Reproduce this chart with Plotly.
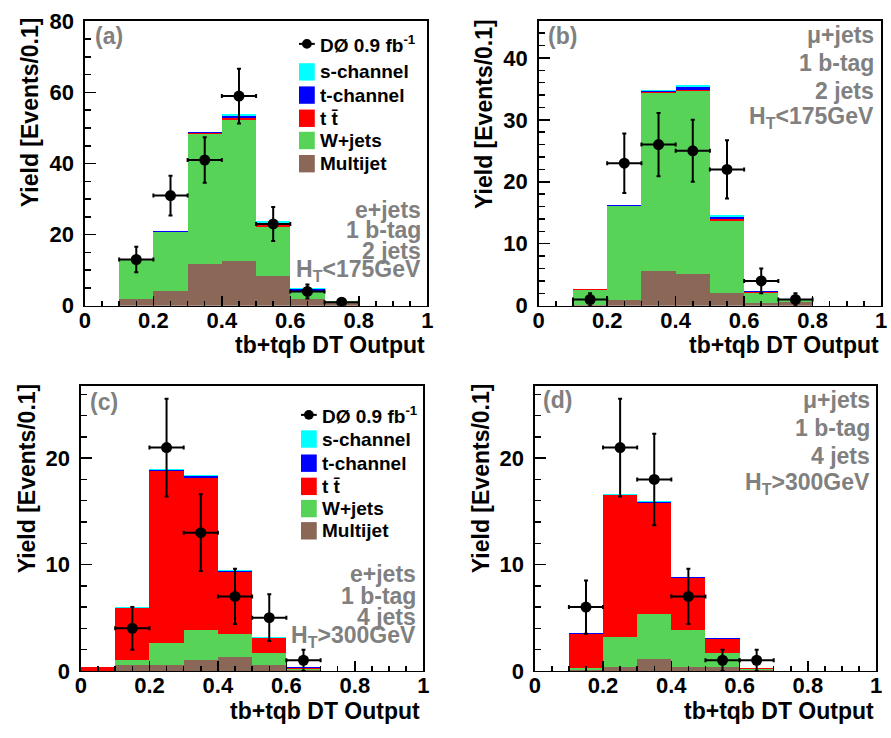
import plotly.graph_objects as go

W, H = 891, 738

# ---------------- data ----------------
bin_centers = [0.05, 0.15, 0.25, 0.35, 0.45, 0.55, 0.65, 0.75]
data_x7 = [0.15, 0.25, 0.35, 0.45, 0.55, 0.65, 0.75]
data_x6 = [0.15, 0.25, 0.35, 0.45, 0.55, 0.65]

# (a) e+jets, 1 b-tag, 2 jets, HT<175GeV
mj_a = [0, 1.8, 4.1, 11.6, 12.7, 8.3, 1.8, 0.9]
wj_a = [0, 11.2, 16.6, 36.7, 39.5, 13.9, 2.1, 0.3]
tt_a = [0, 0.05, 0.1, 0.3, 0.5, 0.5, 0.3, 0.02]
tch_a = [0, 0.05, 0.1, 0.2, 0.6, 0.6, 0.4, 0.02]
sch_a = [0, 0.03, 0.05, 0.2, 0.7, 0.5, 0.3, 0.01]
dat_a = [13, 31, 41, 59, 23, 4, 1]
err_a = [3.6, 5.6, 6.4, 7.7, 4.8, 2.0, 1.0]

# (b) mu+jets, 1 b-tag, 2 jets, HT<175GeV
mj_b = [0, 0.1, 1.0, 5.6, 5.1, 2.1, 0.4, 0.6]
wj_b = [0, 2.5, 15.1, 28.7, 29.5, 11.6, 1.7, 0.4]
tt_b = [0, 0.02, 0.05, 0.15, 0.25, 0.25, 0.1, 0.01]
tch_b = [0, 0.02, 0.05, 0.15, 0.45, 0.4, 0.15, 0.01]
sch_b = [0, 0.01, 0.05, 0.15, 0.3, 0.3, 0.1, 0.01]
dat_b = [1, 23, 26, 25, 22, 4, 1]
err_b = [1.0, 4.8, 5.1, 5.0, 4.7, 2.0, 1.0]

# (c) e+jets, 1 b-tag, 4 jets, HT>300GeV
mj_c = [0, 0.6, 0.6, 1.0, 1.35, 0.6, 0.05, 0]
wj_c = [0, 0.45, 2.0, 2.85, 2.15, 1.1, 0.1, 0]
tt_c = [0.35, 4.85, 16.2, 14.3, 5.8, 1.35, 0.15, 0]
tch_c = [0, 0.05, 0.1, 0.15, 0.1, 0.08, 0.02, 0]
sch_c = [0, 0.03, 0.08, 0.1, 0.08, 0.07, 0.02, 0]
dat_c = [4, 21, 13, 7, 5, 1]
err_c = [2.0, 4.6, 3.6, 2.6, 2.2, 1.0]

# (d) mu+jets, 1 b-tag, 4 jets, HT>300GeV
mj_d = [0, 0.05, 0.35, 1.15, 0.35, 0.35, 0.05, 0]
wj_d = [0, 0.25, 2.8, 4.2, 3.45, 1.3, 0.1, 0]
tt_d = [0, 3.2, 13.35, 10.45, 4.9, 1.35, 0.1, 0]
tch_d = [0, 0.02, 0.05, 0.1, 0.1, 0.05, 0.02, 0]
sch_d = [0, 0.02, 0.05, 0.1, 0.05, 0.05, 0.02, 0]
dat_d = [6, 21, 18, 7, 1, 1]
err_d = [2.5, 4.6, 4.3, 2.6, 1.0, 1.0]

x_ticks = [0, 0.2, 0.4, 0.6, 0.8, 1]
x_ticktext = ["0", "0.2", "0.4", "0.6", "0.8", "1"]
y_ticks_a = [0, 20, 40, 60, 80]
y_ticks_b = [0, 10, 20, 30, 40]
y_ticks_cd = [0, 10, 20]
legend_labels = ["DØ 0.9 fb<sup>-1</sup>", "s-channel", "t-channel", "t t\u0304", "W+jets", "Multijet"]
x_title = "tb+tqb DT Output"
y_title = "Yield [Events/0.1]"

# ---------------- styles ----------------
C_S, C_T, C_TT, C_W, C_MJ = "#00ffff", "#0000ff", "#ff0000", "#57d457", "#8b6758"
GRAY = "#808080"
FONT = "Liberation Sans, Arial, Helvetica, sans-serif"


def px(x):
    return x / W


def py(y):
    return 1 - y / H


panels = [
    dict(name="a", bg=(mj_a, wj_a, tt_a, tch_a, sch_a), dx=data_x7, d=dat_a, e=err_a,
         frame=(80, 427, 9, 304), ymax=80.2, yticks=y_ticks_a, minor=5,
         label_pos=(88, 25),
         ann=["e+jets", "1 b-tag", "2 jets", "H<sub>T</sub><175GeV"], ann_x=423, ann_y=[205, 226, 247, 268],
         ytit=(25, 104), xtit=(427, 345), legend=(297, [33, 62, 86, 110, 133, 157])),
    dict(name="b", bg=(mj_b, wj_b, tt_b, tch_b, sch_b), dx=data_x7, d=dat_b, e=err_b,
         frame=(540, 887, 9, 304), ymax=46, yticks=y_ticks_b, minor=2,
         label_pos=(547, 25),
         ann=["\u03bc+jets", "1 b-tag", "2 jets", "H<sub>T</sub><175GeV"], ann_x=882, ann_y=[24, 53, 82, 109],
         ytit=(485, 105), xtit=(887, 345), legend=None),
    dict(name="c", bg=(mj_c, wj_c, tt_c, tch_c, sch_c), dx=data_x6, d=dat_c, e=err_c,
         frame=(76, 423, 387, 682), ymax=26.8, yticks=y_ticks_cd, minor=2,
         label_pos=(83, 404),
         ann=["e+jets", "1 b-tag", "4 jets", "H<sub>T</sub>>300GeV"], ann_x=418, ann_y=[582, 604, 626, 646],
         ytit=(21, 483), xtit=(422, 723), legend=(299, [417, 442, 467, 491, 514, 537])),
    dict(name="d", bg=(mj_d, wj_d, tt_d, tch_d, sch_d), dx=data_x6, d=dat_d, e=err_d,
         frame=(536, 882, 387, 682), ymax=26.8, yticks=y_ticks_cd, minor=2,
         label_pos=(542, 402),
         ann=["\u03bc+jets", "1 b-tag", "4 jets", "H<sub>T</sub>>300GeV"], ann_x=878, ann_y=[402, 431, 460, 488],
         ytit=(481, 483), xtit=(882, 723), legend=None),
]

fig = go.Figure()
shapes = []
annotations = []
layout_axes = {}
bg_colors = [C_MJ, C_W, C_TT, C_T, C_S]
bg_names = ["Multijet", "W+jets", "ttbar", "t-channel", "s-channel"]

for i, p in enumerate(panels):
    k = "" if i == 0 else str(i + 1)
    xa, ya = "x" + k, "y" + k
    for vals, col, nm in zip(p["bg"], bg_colors, bg_names):
        fig.add_trace(go.Bar(x=bin_centers, y=vals, width=0.1, marker=dict(color=col, line=dict(width=0)),
                             name=nm, showlegend=False, xaxis=xa, yaxis=ya, hoverinfo="skip"))
    fig.add_trace(go.Scatter(
        x=p["dx"], y=p["d"], mode="markers", showlegend=False, xaxis=xa, yaxis=ya, hoverinfo="skip",
        marker=dict(color="black", size=11),
        error_y=dict(type="data", array=p["e"], color="black", thickness=2, width=2),
        error_x=dict(type="constant", value=0.05, color="black", thickness=2, width=2),
    ))
    x0, x1, y0, y1 = p["frame"]
    common = dict(showline=True, mirror=True, linecolor="black", linewidth=1.5, showgrid=False, zeroline=False,
                  ticks="inside", tickcolor="black", tickwidth=1.5, ticklabeloverflow="allow",
                  tickfont=dict(family=FONT, size=22, color="black", weight="bold"))
    layout_axes["xaxis" + k] = dict(common, domain=[px(x0), px(x1)], anchor=ya, range=[0, 1],
                                    tickmode="array", tickvals=x_ticks, ticklabelstandoff=-6,
                                    ticktext=["<b>" + t + "</b>" for t in x_ticktext], ticklen=10,
                                    minor=dict(dtick=0.05, tick0=0, ticklen=5, ticks="inside",
                                               tickcolor="black", tickwidth=1.5))
    layout_axes["yaxis" + k] = dict(common, domain=[py(y1), py(y0)], anchor=xa, range=[0, p["ymax"]],
                                    tickmode="array", tickvals=p["yticks"], ticklabelstandoff=5,
                                    ticktext=["<b>%d</b>" % v for v in p["yticks"]], ticklen=11,
                                    minor=dict(dtick=p["minor"], tick0=0, ticklen=6, ticks="inside",
                                               tickcolor="black", tickwidth=1.5))
    # panel label
    annotations.append(dict(text="(" + p["name"] + ")", x=px(p["label_pos"][0]), y=py(p["label_pos"][1]),
                            xref="paper", yref="paper", xanchor="left", yanchor="middle", showarrow=False,
                            font=dict(family=FONT, size=23, color=GRAY, weight="bold")))
    # selection text
    for t, yy in zip(p["ann"], p["ann_y"]):
        annotations.append(dict(text=t, x=px(p["ann_x"]), y=py(yy), xref="paper", yref="paper",
                                xanchor="right", yanchor="middle", showarrow=False,
                                font=dict(family=FONT, size=23, color=GRAY, weight="bold")))
    # axis titles
    annotations.append(dict(text=x_title, x=px(p["xtit"][0]), y=py(p["xtit"][1]), xref="paper", yref="paper",
                            xanchor="right", yanchor="middle", showarrow=False,
                            font=dict(family=FONT, size=23, color="black", weight="bold")))
    annotations.append(dict(text=y_title, x=px(p["ytit"][0]), y=py(p["ytit"][1]), xref="paper", yref="paper",
                            xanchor="center", yanchor="middle", showarrow=False, textangle=-90,
                            font=dict(family=FONT, size=23, color="black", weight="bold")))
    # legend
    if p["legend"]:
        lx, lys = p["legend"]
        shapes.append(dict(type="line", xref="paper", yref="paper", x0=px(lx), x1=px(lx + 16),
                           y0=py(lys[0]), y1=py(lys[0]), line=dict(color="black", width=2)))
        shapes.append(dict(type="circle", xref="paper", yref="paper", x0=px(lx + 3), x1=px(lx + 13),
                           y0=py(lys[0] - 5), y1=py(lys[0] + 5), fillcolor="black",
                           line=dict(color="black", width=0)))
        for col, yy in zip([C_S, C_T, C_TT, C_W, C_MJ], lys[1:]):
            shapes.append(dict(type="rect", xref="paper", yref="paper", x0=px(lx), x1=px(lx + 16),
                               y0=py(yy + 9), y1=py(yy - 9), fillcolor=col, line=dict(width=0)))
        for lab, yy in zip(legend_labels, lys):
            annotations.append(dict(text=lab, x=px(lx + 19), y=py(yy), xref="paper", yref="paper",
                                    xanchor="left", yanchor="middle", showarrow=False,
                                    font=dict(family=FONT, size=19, color="black", weight="bold")))

fig.update_layout(
    width=W, height=H, margin=dict(l=0, r=0, t=0, b=0),
    paper_bgcolor="white", plot_bgcolor="white",
    barmode="stack", bargap=0, showlegend=False, hovermode=False,
    shapes=shapes, annotations=annotations,
    **layout_axes,
)

fig.write_html("out.html", config={"displayModeBar": False, "staticPlot": True},
               post_script="document.body.style.margin='0';document.body.style.overflow='hidden';")
